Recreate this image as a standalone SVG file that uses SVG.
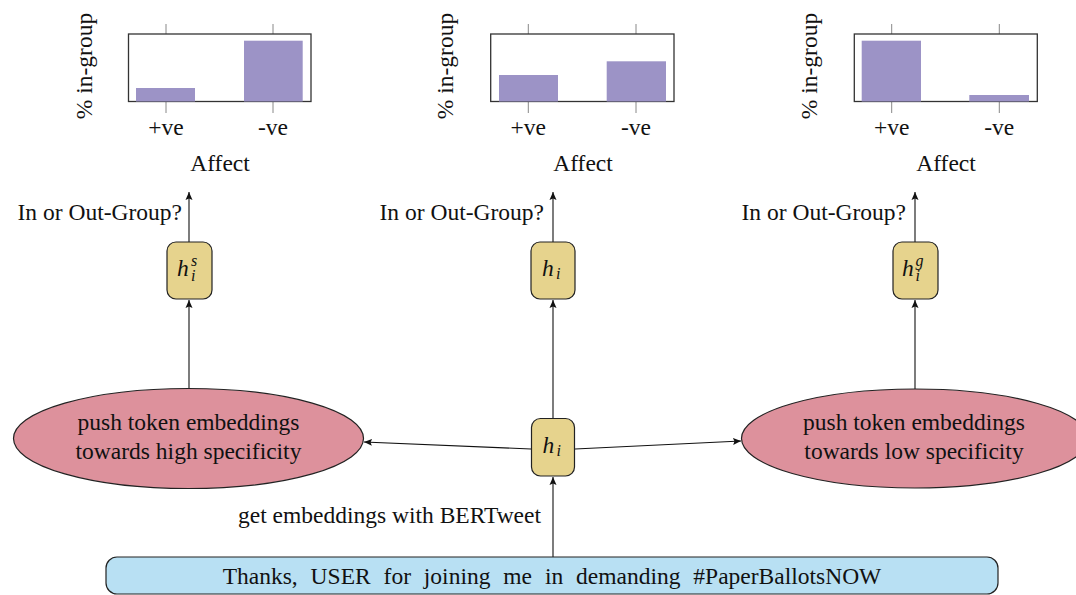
<svg xmlns="http://www.w3.org/2000/svg" width="1076" height="595" viewBox="0 0 1076 595">
<style>
text{font-family:'Liberation Serif','Times New Roman',Times,'Nimbus Roman','Nimbus Roman No9 L',FreeSerif,'DejaVu Serif','Noto Serif',serif;font-size:23.5px;fill:#111}
.m{font-style:italic}
.s{font-style:italic;font-size:16px}
.box{fill:#fff;stroke:#333;stroke-width:1.3}
.tick{stroke:#888;stroke-width:1}
.bar{fill:#9c93c6}
.hn{fill:#e6d38d;stroke:#222;stroke-width:1.2}
.ell{fill:#dd919c;stroke:#222;stroke-width:1.2}
.conn{stroke:#111;stroke-width:1.1;fill:none;marker-end:url(#ah)}
</style>
<defs>
<marker id="ah" markerUnits="userSpaceOnUse" markerWidth="9" markerHeight="8" refX="8" refY="4" orient="auto">
<path d="M0,0.5 L8,4 L0,7.5 L1.5,4 z" fill="#111"/>
</marker>
</defs>
<rect width="1076" height="595" fill="#fff"/>

<g id="chart1">
<line class="tick" x1="166" y1="24" x2="166" y2="34"/><line class="tick" x1="273" y1="24" x2="273" y2="34"/>
<line class="tick" x1="166" y1="101.5" x2="166" y2="113"/><line class="tick" x1="273" y1="101.5" x2="273" y2="113"/>
<rect class="box" x="128.5" y="34" width="182.5" height="67.5"/>
<rect class="bar" x="136" y="88" width="59" height="13.5"/>
<rect class="bar" x="244" y="40.7" width="58.7" height="60.8"/>
<text x="166" y="135" text-anchor="middle">+ve</text>
<text x="273" y="135" text-anchor="middle">-ve</text>
<text x="220" y="171" text-anchor="middle">Affect</text>
<text transform="translate(92,66) rotate(-90)" text-anchor="middle">% in-group</text>
</g>

<g id="chart2">
<line class="tick" x1="528.3" y1="24" x2="528.3" y2="34"/><line class="tick" x1="636" y1="24" x2="636" y2="34"/>
<line class="tick" x1="528.3" y1="101.5" x2="528.3" y2="113"/><line class="tick" x1="636" y1="101.5" x2="636" y2="113"/>
<rect class="box" x="490.7" y="34" width="183.3" height="67.5"/>
<rect class="bar" x="499" y="75" width="59" height="26.5"/>
<rect class="bar" x="606.7" y="61.3" width="59.3" height="40.2"/>
<text x="528.3" y="135" text-anchor="middle">+ve</text>
<text x="636" y="135" text-anchor="middle">-ve</text>
<text x="583" y="171" text-anchor="middle">Affect</text>
<text transform="translate(453,66) rotate(-90)" text-anchor="middle">% in-group</text>
</g>

<g id="chart3">
<line class="tick" x1="891.7" y1="24" x2="891.7" y2="34"/><line class="tick" x1="999.3" y1="24" x2="999.3" y2="34"/>
<line class="tick" x1="891.7" y1="101.5" x2="891.7" y2="113"/><line class="tick" x1="999.3" y1="101.5" x2="999.3" y2="113"/>
<rect class="box" x="854.3" y="34" width="183" height="67.5"/>
<rect class="bar" x="861.7" y="40.7" width="59.3" height="60.8"/>
<rect class="bar" x="969.3" y="95" width="59.7" height="6.5"/>
<text x="891.7" y="135" text-anchor="middle">+ve</text>
<text x="999.3" y="135" text-anchor="middle">-ve</text>
<text x="946" y="171" text-anchor="middle">Affect</text>
<text transform="translate(817,66) rotate(-90)" text-anchor="middle">% in-group</text>
</g>

<g id="connectors">
<line class="conn" x1="553" y1="557" x2="553" y2="477"/>
<line class="conn" x1="531" y1="449" x2="364" y2="442"/>
<line class="conn" x1="575" y1="449" x2="741" y2="441"/>
<line class="conn" x1="553" y1="418" x2="553" y2="300"/>
<line class="conn" x1="189" y1="388" x2="189" y2="300"/>
<line class="conn" x1="915" y1="389" x2="915" y2="300"/>
<line class="conn" x1="189" y1="242" x2="189" y2="192"/>
<line class="conn" x1="553" y1="242" x2="553" y2="192"/>
<line class="conn" x1="915" y1="242" x2="915" y2="192"/>
</g>

<g id="label-q1"><text x="182" y="220" text-anchor="end">In or Out-Group?</text></g>
<g id="label-q2"><text x="544" y="220" text-anchor="end">In or Out-Group?</text></g>
<g id="label-q3"><text x="906" y="220" text-anchor="end">In or Out-Group?</text></g>
<g id="label-bert"><text x="541" y="523" text-anchor="end">get embeddings with BERTweet</text></g>

<g id="node-hs">
<rect class="hn" x="167" y="242" width="45" height="57" rx="9"/>
<text class="m" x="177" y="276">h</text>
<text class="s" x="191" y="266">s</text>
<text class="s" x="191" y="281">i</text>
</g>
<g id="node-h-top">
<rect class="hn" x="531" y="242" width="44" height="57" rx="9"/>
<text class="m" x="542" y="276">h</text>
<text class="s" x="556" y="279">i</text>
</g>
<g id="node-hg">
<rect class="hn" x="893" y="242" width="45" height="57" rx="9"/>
<text class="m" x="902" y="276">h</text>
<text class="s" x="915.5" y="266">g</text>
<text class="s" x="915.5" y="281">i</text>
</g>
<g id="node-h-mid">
<rect class="hn" x="531.5" y="418.5" width="43" height="57.5" rx="9"/>
<text class="m" x="542.5" y="453">h</text>
<text class="s" x="556.5" y="456">i</text>
</g>

<g id="node-high">
<ellipse class="ell" cx="188.5" cy="438.5" rx="175" ry="50"/>
<text x="188.5" y="430" text-anchor="middle">push token embeddings</text>
<text x="188.5" y="459" text-anchor="middle">towards high specificity</text>
</g>
<g id="node-low">
<ellipse class="ell" cx="915" cy="438.5" rx="173.5" ry="49.5"/>
<text x="914" y="430" text-anchor="middle">push token embeddings</text>
<text x="914" y="459" text-anchor="middle">towards low specificity</text>
</g>

<g id="node-tweet">
<rect x="106" y="557" width="892" height="37" rx="11" fill="#b8e0f3" stroke="#222" stroke-width="1.2"/>
<text x="552" y="584" text-anchor="middle" word-spacing="7">Thanks, USER for joining me in demanding #PaperBallotsNOW</text>
</g>
</svg>
